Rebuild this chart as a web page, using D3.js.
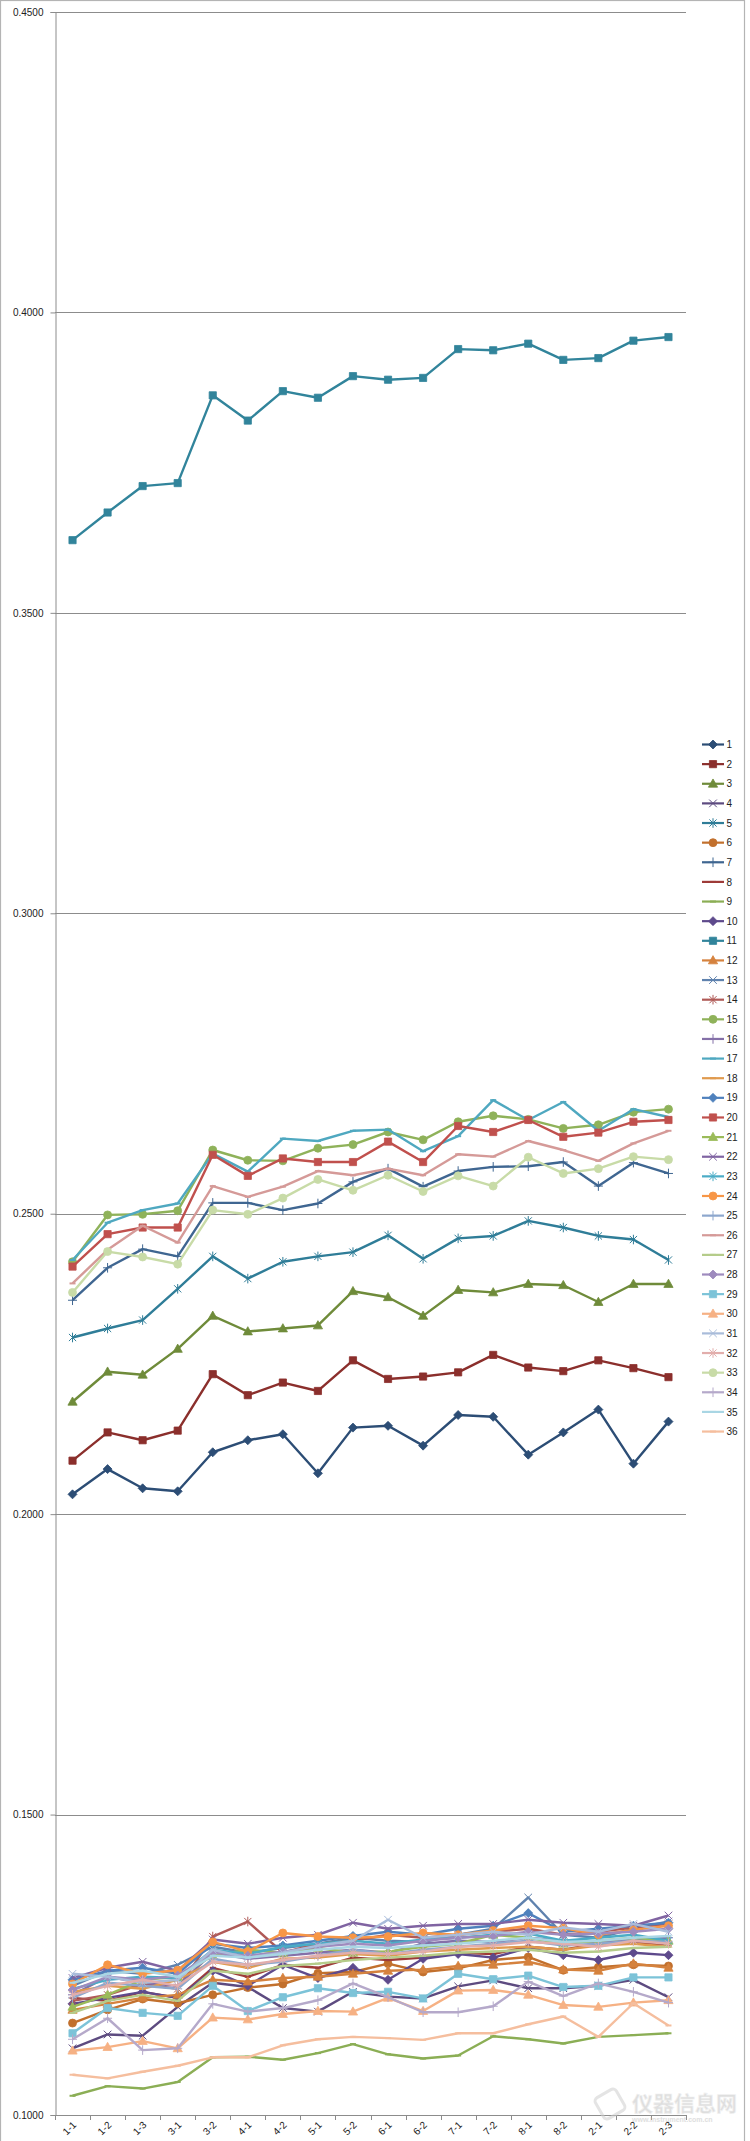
<!DOCTYPE html>
<html><head><meta charset="utf-8">
<script src="https://cdn.jsdelivr.net/npm/d3@7"></script>
<style>body{margin:0;background:#fff}svg{display:block}</style>
</head><body>
<script>
const categories = ["1-1","1-2","1-3","3-1","3-2","4-1","4-2","5-1","5-2","6-1","6-2","7-1","7-2","8-1","8-2","2-1","2-2","2-3"];
const yTicks = [0.10,0.15,0.20,0.25,0.30,0.35,0.40,0.45];
const seriesNames = ["1","2","3","4","5","6","7","8","9","10","11","12","13","14","15","16","17","18","19","20","21","22","23","24","25","26","27","28","29","30","31","32","33","34","35","36"];

const s1 = [0.2033,0.2075,0.2043,0.2038,0.2103,0.2123,0.2133,0.2068,0.2144,0.2147,0.2114,0.2165,0.2162,0.2099,0.2136,0.2174,0.2084,0.2154];
const s2 = [0.2089,0.2136,0.2123,0.2139,0.2233,0.2198,0.2219,0.2205,0.2256,0.2225,0.2229,0.2236,0.2265,0.2244,0.2238,0.2256,0.2243,0.2228];
const s3 = [0.2187,0.2237,0.2232,0.2275,0.2330,0.2304,0.2309,0.2314,0.2371,0.2361,0.2330,0.2373,0.2369,0.2383,0.2381,0.2353,0.2383,0.2383];
const s4 = [0.1111,0.1134,0.1132,0.1180,0.1220,0.1213,0.1178,0.1172,0.1205,0.1197,0.1194,0.1214,0.1224,0.1211,0.1211,0.1215,0.1225,0.1196];
const s5 = [0.2294,0.2309,0.2323,0.2375,0.2429,0.2392,0.2420,0.2429,0.2436,0.2464,0.2425,0.2459,0.2463,0.2488,0.2477,0.2463,0.2457,0.2423];
const s6 = [0.1153,0.1175,0.1193,0.1186,0.1200,0.1212,0.1218,0.1236,0.1238,0.1252,0.1238,0.1244,0.1258,0.1263,0.1241,0.1246,0.1250,0.1248];
const s7 = [0.2356,0.2410,0.2441,0.2429,0.2518,0.2518,0.2506,0.2517,0.2553,0.2575,0.2545,0.2571,0.2578,0.2579,0.2586,0.2546,0.2585,0.2567];
const s8 = [0.1195,0.1190,0.1205,0.1195,0.1245,0.1230,0.1250,0.1245,0.1262,0.1258,0.1262,0.1270,0.1268,0.1280,0.1275,0.1285,0.1288,0.1282];
const s9 = [0.1032,0.1048,0.1044,0.1055,0.1096,0.1097,0.1092,0.1103,0.1118,0.1101,0.1094,0.1099,0.1131,0.1126,0.1119,0.1130,0.1133,0.1136];
const s10 = [0.1185,0.1195,0.1205,0.1195,0.1240,0.1215,0.1250,0.1228,0.1245,0.1225,0.1260,0.1268,0.1262,0.1278,0.1266,0.1258,0.1270,0.1266];
const s11 = [0.3621,0.3667,0.3711,0.3716,0.3862,0.3820,0.3869,0.3858,0.3894,0.3888,0.3891,0.3939,0.3937,0.3948,0.3921,0.3924,0.3953,0.3959];
const s12 = [0.1175,0.1185,0.1195,0.1200,0.1225,0.1222,0.1228,0.1230,0.1235,0.1240,0.1242,0.1248,0.1250,0.1255,0.1242,0.1240,0.1252,0.1245];
const s13 = [0.1215,0.1240,0.1235,0.1250,0.1280,0.1270,0.1278,0.1285,0.1295,0.1290,0.1288,0.1300,0.1310,0.1362,0.1300,0.1295,0.1310,0.1322];
const s14 = [0.1190,0.1200,0.1218,0.1210,0.1297,0.1322,0.1270,0.1285,0.1290,0.1300,0.1295,0.1300,0.1305,0.1310,0.1300,0.1305,0.1312,0.1318];
const s15 = [0.2420,0.2498,0.2499,0.2505,0.2606,0.2589,0.2588,0.2609,0.2615,0.2636,0.2623,0.2653,0.2663,0.2657,0.2642,0.2648,0.2669,0.2674];
const s16 = [0.1200,0.1230,0.1220,0.1215,0.1270,0.1260,0.1265,0.1270,0.1275,0.1270,0.1285,0.1290,0.1288,0.1295,0.1290,0.1288,0.1292,0.1295];
const s17 = [0.2423,0.2485,0.2506,0.2517,0.2600,0.2570,0.2625,0.2621,0.2638,0.2640,0.2604,0.2629,0.2689,0.2656,0.2686,0.2638,0.2674,0.2661];
const s18 = [0.1205,0.1215,0.1210,0.1225,0.1255,0.1245,0.1260,0.1262,0.1268,0.1265,0.1272,0.1275,0.1278,0.1280,0.1275,0.1282,0.1285,0.1280];
const s19 = [0.1225,0.1240,0.1245,0.1235,0.1285,0.1278,0.1282,0.1290,0.1298,0.1305,0.1300,0.1310,0.1315,0.1336,0.1305,0.1310,0.1315,0.1320];
const s20 = [0.2412,0.2466,0.2477,0.2477,0.2598,0.2563,0.2592,0.2586,0.2586,0.2620,0.2586,0.2646,0.2636,0.2656,0.2628,0.2635,0.2653,0.2656];
const s21 = [0.1180,0.1200,0.1225,0.1230,0.1265,0.1275,0.1270,0.1278,0.1270,0.1272,0.1280,0.1285,0.1300,0.1295,0.1285,0.1290,0.1295,0.1290];
const s22 = [0.1228,0.1245,0.1255,0.1240,0.1292,0.1285,0.1295,0.1300,0.1320,0.1310,0.1315,0.1318,0.1318,0.1325,0.1320,0.1318,0.1315,0.1332];
const s23 = [0.1210,0.1225,0.1230,0.1228,0.1275,0.1268,0.1280,0.1285,0.1290,0.1285,0.1292,0.1295,0.1300,0.1302,0.1290,0.1295,0.1300,0.1290];
const s24 = [0.1218,0.1250,0.1235,0.1241,0.1288,0.1272,0.1303,0.1297,0.1295,0.1297,0.1303,0.1300,0.1307,0.1315,0.1311,0.1300,0.1308,0.1315];
const s25 = [0.1195,0.1220,0.1215,0.1210,0.1260,0.1250,0.1255,0.1265,0.1275,0.1268,0.1275,0.1280,0.1285,0.1290,0.1282,0.1285,0.1290,0.1288];
const s26 = [0.2384,0.2440,0.2480,0.2452,0.2546,0.2528,0.2545,0.2571,0.2564,0.2575,0.2564,0.2599,0.2595,0.2621,0.2606,0.2588,0.2617,0.2638];
const s27 = [0.1170,0.1190,0.1200,0.1190,0.1240,0.1235,0.1248,0.1252,0.1258,0.1262,0.1265,0.1270,0.1272,0.1275,0.1270,0.1272,0.1278,0.1280];
const s28 = [0.1208,0.1230,0.1225,0.1232,0.1270,0.1265,0.1272,0.1280,0.1285,0.1282,0.1290,0.1295,0.1298,0.1305,0.1300,0.1302,0.1305,0.1310];
const s29 = [0.1136,0.1178,0.1170,0.1165,0.1215,0.1173,0.1196,0.1211,0.1203,0.1205,0.1194,0.1235,0.1226,0.1232,0.1213,0.1215,0.1229,0.1229];
const s30 = [0.1107,0.1113,0.1123,0.1111,0.1162,0.1159,0.1168,0.1173,0.1172,0.1195,0.1173,0.1207,0.1208,0.1200,0.1183,0.1180,0.1187,0.1191];
const s31 = [0.1235,0.1230,0.1220,0.1225,0.1275,0.1262,0.1270,0.1282,0.1290,0.1325,0.1295,0.1300,0.1305,0.1300,0.1312,0.1305,0.1318,0.1305];
const s32 = [0.1200,0.1215,0.1225,0.1215,0.1255,0.1250,0.1258,0.1265,0.1270,0.1268,0.1272,0.1280,0.1282,0.1288,0.1285,0.1280,0.1290,0.1285];
const s33 = [0.2369,0.2437,0.2428,0.2416,0.2506,0.2499,0.2526,0.2557,0.2539,0.2564,0.2537,0.2563,0.2546,0.2594,0.2567,0.2575,0.2595,0.2590];
const s34 = [0.1126,0.1161,0.1108,0.1111,0.1185,0.1172,0.1178,0.1191,0.1219,0.1196,0.1171,0.1171,0.1181,0.1222,0.1198,0.1219,0.1205,0.1187];
const s35 = [0.1220,0.1235,0.1240,0.1230,0.1265,0.1262,0.1268,0.1275,0.1280,0.1278,0.1282,0.1285,0.1290,0.1295,0.1288,0.1290,0.1295,0.1298];
const s36 = [0.1067,0.1061,0.1072,0.1082,0.1096,0.1096,0.1116,0.1126,0.1130,0.1128,0.1125,0.1136,0.1136,0.1151,0.1164,0.1130,0.1186,0.1149];

const seriesValues = [s1,s2,s3,s4,s5,s6,s7,s8,s9,s10,s11,s12,s13,s14,s15,s16,s17,s18,s19,s20,s21,s22,s23,s24,s25,s26,s27,s28,s29,s30,s31,s32,s33,s34,s35,s36];
const seriesColors = ["#2C4D75","#8B2F2C","#6F8B3A","#5D4B80","#2F7D98","#C2702D",
  "#3F6691","#9E3B38","#8BAE55","#5E4A8C","#31849B","#D5823E",
  "#5F82AE","#B05A57","#8FB25A","#8470A8","#4FA8C0","#E09A4E",
  "#4F81BD","#C0504D","#9BBB59","#8064A2","#4BACC6","#F79646",
  "#8DA7CD","#D59A98","#B5CC8A","#9E8BBE","#7CC3D8","#F6B184",
  "#A9BCDA","#E2AEAC","#C8DBA7","#B5A9CA","#A9D6E4","#F5BE9E"];
const markerCycle = ["diamond","square","triangle","x","star","circle","plus","dash","dash"];

const W = 750, H = 2141;
const svg = d3.select("body").append("svg").attr("width", W).attr("height", H)
  .style("font-family", "'Liberation Sans', Arial, sans-serif");

// chart area border
svg.append("rect").attr("x", 0.5).attr("y", 0.5).attr("width", 744).attr("height", H + 10)
  .attr("fill", "#fff").attr("stroke", "#b4b4b4").attr("stroke-width", 1.2);

const plotL = 55, plotR = 686, plotT = 12, plotB = 2115;
const x = d3.scaleBand().domain(categories).range([plotL, plotR]);
const xc = c => x(c) + x.bandwidth() / 2;
const y = d3.scaleLinear().domain([0.10, 0.45]).range([plotB, plotT]);

// gridlines
svg.append("g").selectAll("line").data(yTicks.filter(t => t > 0.10)).join("line")
  .attr("x1", plotL).attr("x2", plotR)
  .attr("y1", d => Math.round(y(d)) + 0.5).attr("y2", d => Math.round(y(d)) + 0.5)
  .attr("stroke", "#8c8c8c").attr("stroke-width", 1);

// y axis
const yAxis = svg.append("g").attr("transform", `translate(${plotL + 0.5},0)`)
  .call(d3.axisLeft(y).tickValues(yTicks).tickFormat(d3.format(".4f")).tickSize(5).tickPadding(7));
yAxis.select(".domain").attr("stroke", "#8c8c8c");
yAxis.selectAll(".tick line").attr("stroke", "#8c8c8c");
yAxis.selectAll(".tick text").attr("font-size", "10px").attr("fill", "#222")
  .attr("font-family", "'Liberation Sans', Arial, sans-serif");

// x axis
const xg = svg.append("g");
xg.append("line").attr("x1", plotL).attr("x2", plotR).attr("y1", plotB + 0.5).attr("y2", plotB + 0.5)
  .attr("stroke", "#8c8c8c");
const bounds = categories.map(c => x(c)).concat([plotR]);
xg.selectAll("line.tk").data(bounds).join("line").attr("class", "tk")
  .attr("x1", d => Math.round(d) + 0.5).attr("x2", d => Math.round(d) + 0.5)
  .attr("y1", plotB).attr("y2", plotB + 5).attr("stroke", "#8c8c8c");
xg.selectAll("text").data(categories).join("text")
  .attr("transform", c => `translate(${xc(c) + 2},${plotB + 8}) rotate(-45)`)
  .attr("text-anchor", "end").attr("dy", "0.35em")
  .attr("font-size", "10px").attr("fill", "#222").text(c => c);

// marker path
function markerPath(type) {
  switch (type) {
    case "diamond": return "M0,-4.5L4.5,0L0,4.5L-4.5,0Z";
    case "square": return "M-3.6,-3.6H3.6V3.6H-3.6Z";
    case "triangle": return "M0,-4.8L4.6,3.4H-4.6Z";
    case "circle": return "M4,0A4,4 0 1,1 -4,0A4,4 0 1,1 4,0Z";
    case "x": return "M-3.8,-3.8L3.8,3.8M-3.8,3.8L3.8,-3.8";
    case "star": return "M-3.6,-3.6L3.6,3.6M-3.6,3.6L3.6,-3.6M0,-4.8L0,4.8";
    case "plus": return "M-4.5,0H4.5M0,-4.8V4.8";
    case "dash": return "M-3,0H3";
  }
}
const filled = t => ["diamond","square","triangle","circle"].includes(t);

const line = d3.line().x((d, i) => xc(categories[i])).y(d => y(d));
const seriesG = svg.append("g");
seriesValues.forEach((vals, si) => {
  const col = seriesColors[si];
  const mk = markerCycle[si % 9];
  const g = seriesG.append("g");
  g.append("path").datum(vals).attr("d", line).attr("fill", "none")
    .attr("stroke", col).attr("stroke-width", 2.4).attr("stroke-linejoin", "round");
  g.selectAll("path.m").data(vals).join("path").attr("class", "m")
    .attr("transform", (d, i) => `translate(${xc(categories[i])},${y(d)})`)
    .attr("d", markerPath(mk))
    .attr("fill", filled(mk) ? col : "none")
    .attr("stroke", col).attr("stroke-width", filled(mk) ? 0.8 : (mk === "dash" ? 2 : 1));
});

// legend
const lg = svg.append("g");
seriesNames.forEach((name, si) => {
  const col = seriesColors[si];
  const mk = markerCycle[si % 9];
  const ly = 744.5 + si * 19.63;
  lg.append("line").attr("x1", 702).attr("x2", 724).attr("y1", ly).attr("y2", ly)
    .attr("stroke", col).attr("stroke-width", 2.2);
  lg.append("path").attr("transform", `translate(713,${ly})`).attr("d", markerPath(mk))
    .attr("fill", filled(mk) ? col : "none").attr("stroke", col)
    .attr("stroke-width", filled(mk) ? 0.8 : (mk === "dash" ? 2 : 1));
  lg.append("text").attr("x", 726.5).attr("y", ly).attr("dy", "0.36em")
    .attr("font-size", "10px").attr("fill", "#222").text(name);
});

// watermark
const wm = svg.append("g").attr("opacity", 0.55);
wm.append("text").attr("x", 632).attr("y", 2111).attr("font-size", "21px").attr("font-weight", "bold")
  .attr("font-family", "'Noto Sans CJK SC', sans-serif").attr("fill", "#c4c4c4")
  .attr("stroke", "#e6e6e6").attr("stroke-width", 0.6).text("仪器信息网");
wm.append("text").attr("x", 632).attr("y", 2122).attr("font-size", "7px").attr("font-weight", "bold")
  .attr("fill", "#c4c4c4").text("www.instrument.com.cn");
wm.append("rect").attr("x", 598).attr("y", 2092).attr("width", 24).attr("height", 24).attr("rx", 4)
  .attr("transform", "rotate(-30,610,2104)").attr("fill", "none").attr("stroke", "#cfcfcf").attr("stroke-width", 3);
</script>
</body></html>
